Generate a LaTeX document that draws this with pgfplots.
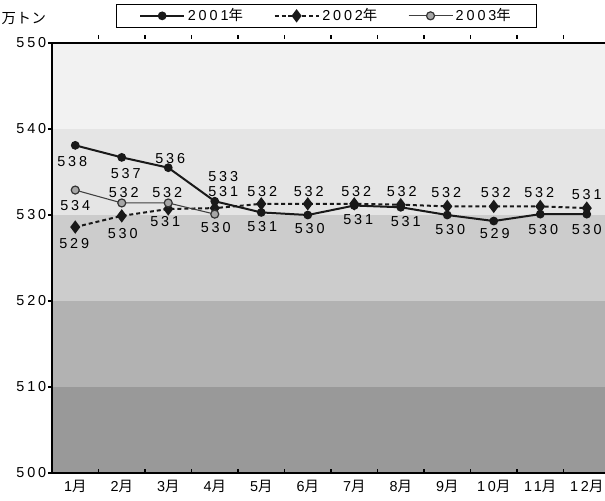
\documentclass[border=0pt]{standalone}
\usepackage{pgfplots}
\pgfplotsset{compat=1.18}
\usepackage{pgfplotstable}
\usepackage{fontspec}
\setmainfont[LetterSpace=20]{Liberation Sans}
\newfontfamily\jp[LetterSpace=4]{Noto Sans CJK JP}

\definecolor{bandA}{HTML}{999999}
\definecolor{bandB}{HTML}{B2B2B2}
\definecolor{bandC}{HTML}{CCCCCC}
\definecolor{bandD}{HTML}{E5E5E5}
\definecolor{bandE}{HTML}{F2F2F2}

% x y label  label-shift (pt)
\pgfplotstableread{
x y lab dx dy
0 538.1 538 -2.25 -12
1 536.7 537 3 -12
2 535.5 536 1.5 7
3 531.6 531 6.3 7.5
4 530.3 531 0.75 -10.7
5 530.0 530 1.5 -10.5
6 531.1 531 3 -10.2
7 530.9 531 3.75 -10.5
8 530.0 530 2.25 -10.7
9 529.3 529 0.75 -9.75
10 530.1 530 2.25 -11.25
11 530.1 530 0 -11.25
}\tA

\pgfplotstableread{
x y lab dx dy
0 528.6 529 -0.75 -12.5
1 529.9 530 0.75 -13.3
2 530.7 531 -2.25 -9.5
3 530.8 533 6.3 23.8
4 531.3 532 0.75 9.5
5 531.3 532 0.75 9.5
6 531.3 532 1.5 9.5
7 531.2 532 0.75 10.2
8 531.0 532 -0.75 10.5
9 531.0 532 1.5 10.5
10 531.0 532 -0.75 10.5
11 530.8 531 0 10
}\tB

\pgfplotstableread{
x y lab dx dy
0 532.9 534 0 -11.25
1 531.4 532 1.5 8
2 531.4 532 -0.75 8
3 530.1 530 0.75 -10.3
}\tC

\pgfplotsset{
  lbl/.style={
    nodes near coords,
    point meta=explicit symbolic,
    visualization depends on={\thisrow{dx}\as\dx},
    visualization depends on={\thisrow{dy}\as\dy},
    every node near coord/.append style={anchor=center, xshift=\dx pt, yshift=\dy pt, text=black},
  },
}

\begin{document}
\begin{tikzpicture}[font=\fontsize{10.8}{13}\selectfont]
\begin{axis}[
  scale only axis,
  width=418.5pt, height=322.5pt,
  xmin=-0.5, xmax=11.5,
  ymin=500, ymax=550,
  ytick={500,510,...,550},
  yticklabels={500,510,520,530,540,550},
  xtick={0.5,1.5,...,11.5},
  xticklabels={1{\jp 月},2{\jp 月},3{\jp 月},4{\jp 月},5{\jp 月},6{\jp 月},7{\jp 月},8{\jp 月},9{\jp 月},10{\jp 月},11{\jp 月},12{\jp 月}},
  x tick label style={xshift=-17.44pt, yshift=1pt},
  y tick label style={xshift=2.2pt},
  tick align=outside,
  major tick length=3pt,
  xtick style={yshift=3pt, line width=0.8pt, black},
  ytick style={line width=0.8pt, black},
  axis x line*=box,
  axis y line*=left,
  axis line style={line width=1.4pt, black},
  axis on top,
  clip=false,
  ylabel={\jp 万トン},
  every axis y label/.style={at={(axis description cs:-0.0506,1.0558)}, anchor=center},
  legend columns=3,
  legend image code/.code={\draw[mark repeat=2,mark phase=2,#1] plot coordinates {(0cm,0cm) (0.58cm,0cm) (1.16cm,0cm)};},
  legend style={at={(axis description cs:0.1147,1.0907)}, anchor=north west,
    draw=black, line width=0.75pt, inner xsep=17pt, inner ysep=1.2pt,
    /tikz/every even column/.append style={column sep=21pt}},
]
\fill[bandA] (axis cs:-0.5,500) rectangle (axis cs:11.5,510);
\fill[bandB] (axis cs:-0.5,510) rectangle (axis cs:11.5,520);
\fill[bandC] (axis cs:-0.5,520) rectangle (axis cs:11.5,530);
\fill[bandD] (axis cs:-0.5,530) rectangle (axis cs:11.5,540);
\fill[bandE] (axis cs:-0.5,540) rectangle (axis cs:11.5,550);

\addplot[lbl, line width=1.5pt, color=black!90, mark=*, mark size=2.5pt,
  mark options={solid, fill=black!90}]
  table[x=x, y=y, meta=lab]{\tA};
\addplot[lbl, line width=1.5pt, color=black!90, dash pattern=on 3pt off 2.2pt,
  mark=diamond*, mark size=3.8pt, mark options={solid, fill=black!90}]
  table[x=x, y=y, meta=lab]{\tB};
\addplot[lbl, line width=0.8pt, color=black!75, mark=*, mark size=3pt,
  mark options={solid, fill=black!35, draw=black!80, line width=0.9pt}]
  table[x=x, y=y, meta=lab]{\tC};
\legend{2001{\jp 年}, 2002{\jp 年}, 2003{\jp 年}}
\end{axis}
\pgfresetboundingbox
\path (-39pt,-20.25pt) rectangle (414.75pt,354.75pt);
\end{tikzpicture}
\end{document}
